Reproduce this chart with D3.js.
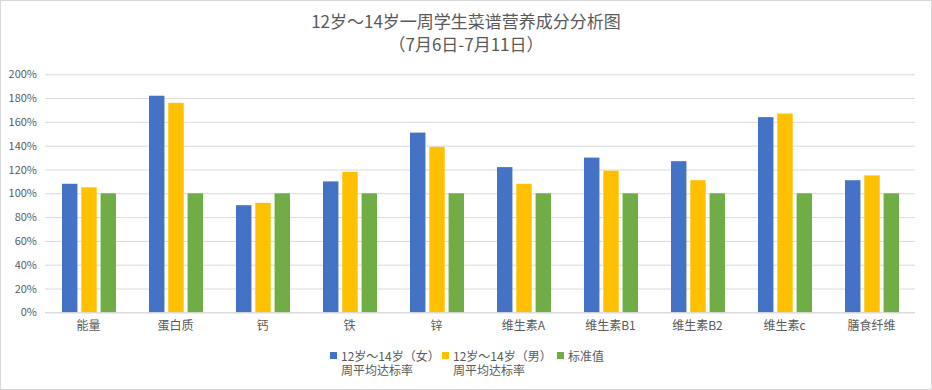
<!DOCTYPE html>
<html lang="zh">
<head>
<meta charset="utf-8">
<title>12岁～14岁一周学生菜谱营养成分分析图</title>
<script src="https://cdn.jsdelivr.net/npm/d3@7"></script>
<style>
  body { margin: 0; background: #fff; }
  text { font-family: "Noto Sans CJK SC", "Noto Sans", sans-serif; fill: #595959; }
</style>
</head>
<body>
<script>
// chart values
const categories = ["能量", "蛋白质", "钙", "铁", "锌", "维生素A", "维生素B1", "维生素B2", "维生素c", "膳食纤维"];
const girls = [108, 182, 90, 110, 151, 122, 130, 127, 164, 111];
const boys = [105, 176, 92, 118, 139, 108, 119, 111, 167, 115];
const standard = [100, 100, 100, 100, 100, 100, 100, 100, 100, 100];
const yTicks = [0, 20, 40, 60, 80, 100, 120, 140, 160, 180, 200];
const seriesNames = [["12岁～14岁（女）", "周平均达标率"], ["12岁～14岁（男）", "周平均达标率"], ["标准值"]];
const colors = ["#4472c4", "#ffc000", "#70ad47"];

let w = 932, h = 390;
let plotLeft = 45, plotRight = 915, plotTop = 74.3, plotBottom = 312.3;

let svg = d3.select("body").append("svg")
  .attr("width", w)
  .attr("height", h);

// outer border
svg.append("rect")
  .attr("x", 0.5).attr("y", 0.5)
  .attr("width", w - 1).attr("height", h - 1)
  .attr("fill", "#fff")
  .attr("stroke", "#d9d9d9");

// title
svg.append("text")
  .attr("x", 466).attr("y", 28)
  .attr("text-anchor", "middle")
  .style("font-size", "17px")
  .text("12岁～14岁一周学生菜谱营养成分分析图");
svg.append("text")
  .attr("x", 466).attr("y", 51)
  .attr("text-anchor", "middle")
  .style("font-size", "17px")
  .text("（7月6日-7月11日）");

let x0 = d3.scaleBand()
  .domain(categories)
  .range([plotLeft, plotRight]);

let x1 = d3.scaleBand()
  .domain([0, 1, 2])
  .range([x0.bandwidth() / 2 - 26.5, x0.bandwidth() / 2 + 27.5])
  .paddingInner(0.2);

let y = d3.scaleLinear()
  .domain([0, 200])
  .range([plotBottom, plotTop]);

// gridlines
let yAxis = d3.axisLeft(y)
  .tickValues(yTicks)
  .tickSize(-(plotRight - plotLeft))
  .tickFormat(d => d + "%");

let gy = svg.append("g")
  .attr("transform", "translate(" + plotLeft + ",0)")
  .call(yAxis);
gy.select(".domain").remove();
gy.selectAll(".tick line").attr("stroke", "#d9d9d9").attr("stroke-width", 1);
gy.selectAll(".tick text")
  .attr("x", -8)
  .style("font-size", "11px")
  .style("fill", "#595959");

// bars
let dataset = categories.map((c, i) => [girls[i], boys[i], standard[i]]);

let groups = svg.selectAll(".grp")
  .data(dataset)
  .enter()
  .append("g")
  .attr("class", "grp")
  .attr("transform", (d, i) => "translate(" + x0(categories[i]) + ",0)");

groups.selectAll("rect")
  .data(d => d)
  .enter()
  .append("rect")
  .attr("x", (d, i) => x1(i))
  .attr("width", x1.bandwidth())
  .attr("y", d => y(d))
  .attr("height", d => y(0) - y(d))
  .attr("fill", (d, i) => colors[i]);

// bottom axis line
svg.append("line")
  .attr("x1", plotLeft).attr("x2", plotRight)
  .attr("y1", plotBottom + 0.5).attr("y2", plotBottom + 0.5)
  .attr("stroke", "#d9d9d9");

// category labels
let xAxis = d3.axisBottom(x0).tickSize(0).tickPadding(9);
let gx = svg.append("g")
  .attr("transform", "translate(0," + plotBottom + ")")
  .call(xAxis);
gx.select(".domain").remove();
gx.selectAll(".tick text")
  .style("font-size", "12px")
  .style("fill", "#595959");

// legend
let legendX = [330, 442, 557];
let legend = svg.selectAll(".lg")
  .data(seriesNames)
  .enter()
  .append("g")
  .attr("class", "lg")
  .attr("transform", (d, i) => "translate(" + legendX[i] + ",352)");

legend.append("rect")
  .attr("width", 7).attr("height", 7)
  .attr("fill", (d, i) => colors[i]);

legend.selectAll("text")
  .data(d => d)
  .enter()
  .append("text")
  .attr("x", 11)
  .attr("y", (d, j) => 9 + j * 13.5)
  .style("font-size", "12px")
  .text(d => d);
</script>
</body>
</html>
